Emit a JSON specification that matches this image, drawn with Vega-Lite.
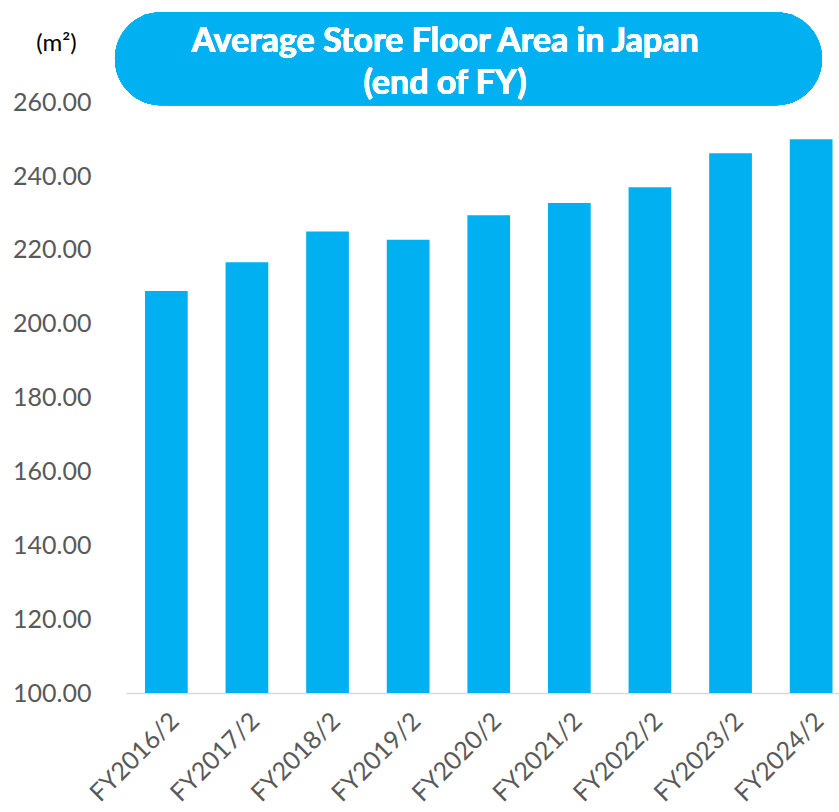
{
  "$schema": "https://vega.github.io/schema/vega-lite/v6.json",
  "width": 713,
  "height": 683,
  "autosize": {"type": "none"},
  "padding": {"left": 126, "top": 10, "right": 0, "bottom": 119},
  "background": "white",
  "config": {"view": {"stroke": null}, "font": "Lato"},
  "data": {
    "values": [
      {"fy": "FY2016/2", "area": 208.9},
      {"fy": "FY2017/2", "area": 216.7},
      {"fy": "FY2018/2", "area": 225.0},
      {"fy": "FY2019/2", "area": 222.8},
      {"fy": "FY2020/2", "area": 229.4},
      {"fy": "FY2021/2", "area": 232.7},
      {"fy": "FY2022/2", "area": 237.0},
      {"fy": "FY2023/2", "area": 246.2},
      {"fy": "FY2024/2", "area": 250.0}
    ]
  },
  "layer": [
    {
      "mark": {"type": "bar", "color": "#00B0F0"},
      "encoding": {
        "x": {
          "field": "fy",
          "type": "nominal",
          "sort": null,
          "scale": {"paddingInner": 0.47, "paddingOuter": 0.158, "align": 0.745},
          "axis": {
            "title": null,
            "labelAngle": -45,
            "labelFontSize": 25,
            "labelColor": "#595959",
            "labelPadding": 15,
            "ticks": false,
            "domainColor": "#D9D9D9",
            "domainWidth": 1.5
          }
        },
        "y": {
          "field": "area",
          "type": "quantitative",
          "scale": {"domain": [100, 285], "nice": false, "zero": false},
          "axis": {
            "values": [100, 120, 140, 160, 180, 200, 220, 240, 260],
            "format": ".2f",
            "labelFontSize": 25,
            "labelColor": "#595959",
            "labelPadding": 35,
            "domain": false,
            "ticks": false,
            "grid": false,
            "title": "(m²)",
            "titleAngle": 0,
            "titleFontSize": 24,
            "titleFontWeight": "normal",
            "titleColor": "#000000",
            "titleAlign": "center",
            "titleBaseline": "middle",
            "titleX": -70,
            "titleY": 33
          }
        },
        "y2": {"datum": 100}
      }
    },
    {
      "mark": {"type": "rect", "color": "#00B0F0", "cornerRadius": 46},
      "encoding": {
        "x": {"datum": -0.0154, "type": "quantitative", "scale": {"domain": [0, 1], "nice": false, "zero": false}, "axis": null},
        "x2": {"datum": 0.976},
        "y": {"datum": 284.4, "type": "quantitative"},
        "y2": {"datum": 259.2}
      }
    },
    {
      "mark": {
        "type": "text",
        "text": ["Average Store Floor Area in Japan", "(end of FY)"],
        "fontSize": 34,
        "fontWeight": "bold",
        "color": "white",
        "align": "center",
        "baseline": "middle",
        "lineHeight": 42
      },
      "encoding": {
        "x": {"datum": 0.4474, "type": "quantitative", "scale": {"domain": [0, 1], "nice": false, "zero": false}, "axis": null},
        "y": {"datum": 276.4, "type": "quantitative"}
      }
    }
  ],
  "resolve": {"scale": {"x": "independent"}}
}
